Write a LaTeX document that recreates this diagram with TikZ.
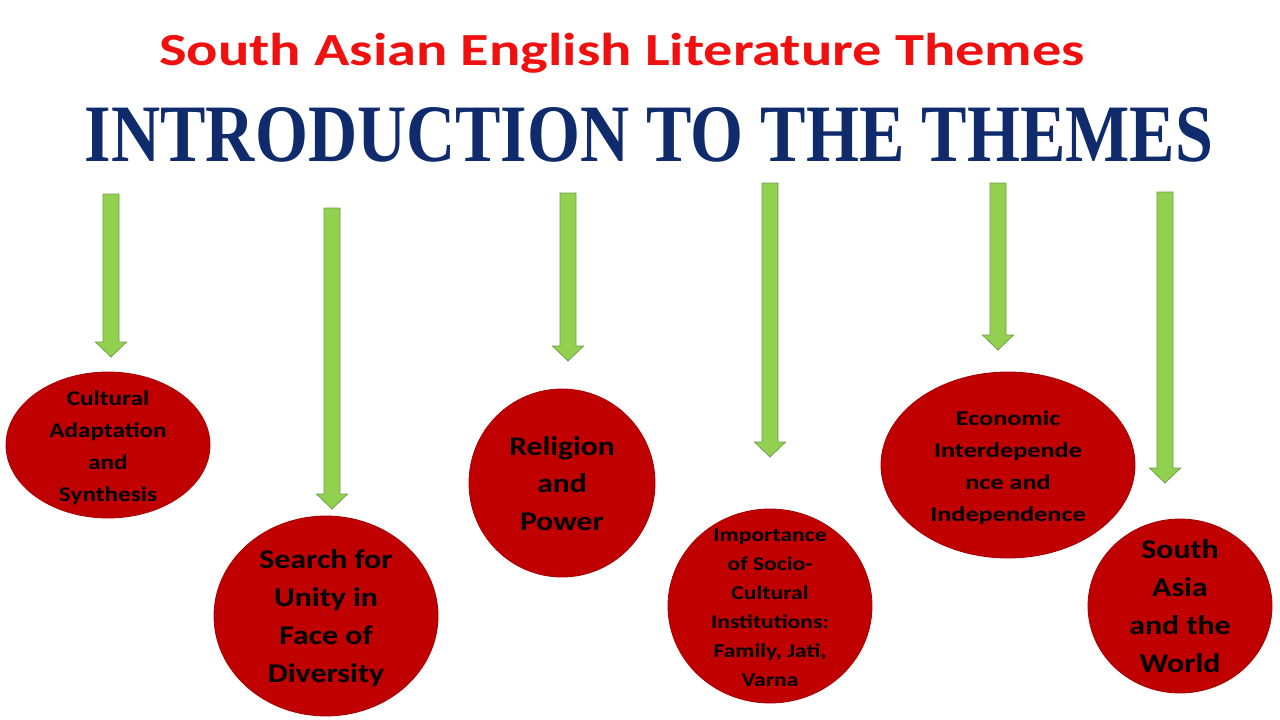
\documentclass[tikz,border=0pt]{standalone}
\usepackage{fontspec}
\setmainfont{Carlito}
\newfontfamily\headfont{Liberation Serif}
\usetikzlibrary{shapes.geometric,calc}

\definecolor{themered}{HTML}{C00000}
\definecolor{themeline}{HTML}{A50000}
\definecolor{arrowgreen}{HTML}{92D050}
\definecolor{arrowline}{HTML}{6E9E45}
\definecolor{toptitle}{HTML}{F01010}
\definecolor{navytitle}{HTML}{0F2B6B}

\tikzset{
  theme/.style={ellipse, draw=themeline, fill=themered, line width=0.8pt, inner sep=0pt},
  themetext/.style={inner sep=0pt, text=black, yshift=-2pt},
  garrow/.style={draw=arrowline, fill=arrowgreen, line width=0.8pt},
}

% block arrow from a top point down to a tip point
\newcommand{\themearrow}[2]{%
  \draw[garrow] ($(#1)+(-8,0)$) -- ($(#1)+(8,0)$) -- ($(#2)+(8,-15)$)
    -- ($(#2)+(15.5,-15)$) -- (#2) -- ($(#2)+(-15.5,-15)$)
    -- ($(#2)+(-8,-15)$) -- cycle;}
% slide text is a little wider than the font
\newcommand{\wide}[2][1.2]{\scalebox{#1}[1]{\begin{tabular}{@{}c@{}}#2\end{tabular}}}

\begin{document}
\begin{tikzpicture}[x=1pt,y=-1pt]
    \useasboundingbox (0,0) rectangle (1280,720);

    % titles
    \node[anchor=base, text=toptitle, font=\bfseries\fontsize{46}{50}\selectfont]
        (title) at (622,65) {\scalebox{1.27}[1]{South Asian English Literature Themes}};
    \node[text=navytitle, inner sep=0pt] (intro) at (649,135)
        {\resizebox{1128pt}{54pt}{\headfont\bfseries INTRODUCTION TO THE THEMES}};

    % themes
    \node[theme, minimum width=204, minimum height=146] (adapt) at (108,445) {};
    \node[themetext, font=\bfseries\fontsize{21}{32}\selectfont] (adapt-t) at (adapt)
        {\wide{Cultural\\Adaptation\\and\\Synthesis}};
    \node[theme, minimum width=224, minimum height=200] (unity) at (326,616) {};
    \node[themetext, font=\bfseries\fontsize{27}{38}\selectfont] (unity-t) at (unity)
        {\wide[1.18]{Search for\\Unity in\\Face of\\Diversity}};
    \node[theme, minimum width=186, minimum height=188] (religion) at (562,483) {};
    \node[themetext, font=\bfseries\fontsize{27}{37.5}\selectfont] (religion-t) at (religion)
        {\wide[1.17]{Religion\\and\\Power}};
    \node[theme, minimum width=204, minimum height=194] (institutions) at (770,606) {};
    \node[themetext, font=\bfseries\fontsize{19.5}{29}\selectfont] (institutions-t) at (institutions)
        {\wide[1.21]{Importance\\of Socio-\\Cultural\\Institutions:\\Family, Jati,\\Varna}};
    \node[theme, minimum width=254, minimum height=186] (economy) at (1008,465) {};
    \node[themetext, font=\bfseries\fontsize{21}{32}\selectfont] (economy-t) at (economy)
        {\wide[1.25]{Economic\\Interdepende\\nce and\\Independence}};
    \node[theme, minimum width=184, minimum height=174] (world) at (1180,606) {};
    \node[themetext, font=\bfseries\fontsize{27}{38}\selectfont] (world-t) at (world)
        {\wide[1.18]{South\\Asia\\and the\\World}};

    % arrows
    \coordinate (top1) at (111,194);  \coordinate (tip1) at (111,357);
    \coordinate (top2) at (332,208);  \coordinate (tip2) at (332,509);
    \coordinate (top3) at (568,193);  \coordinate (tip3) at (568,361);
    \coordinate (top4) at (770,183);  \coordinate (tip4) at (770,457);
    \coordinate (top5) at (998,183);  \coordinate (tip5) at (998,350);
    \coordinate (top6) at (1165,192); \coordinate (tip6) at (1165,483);
    \foreach \i in {1,...,6}{
        \themearrow{top\i}{tip\i}
    }
\end{tikzpicture}
\end{document}
